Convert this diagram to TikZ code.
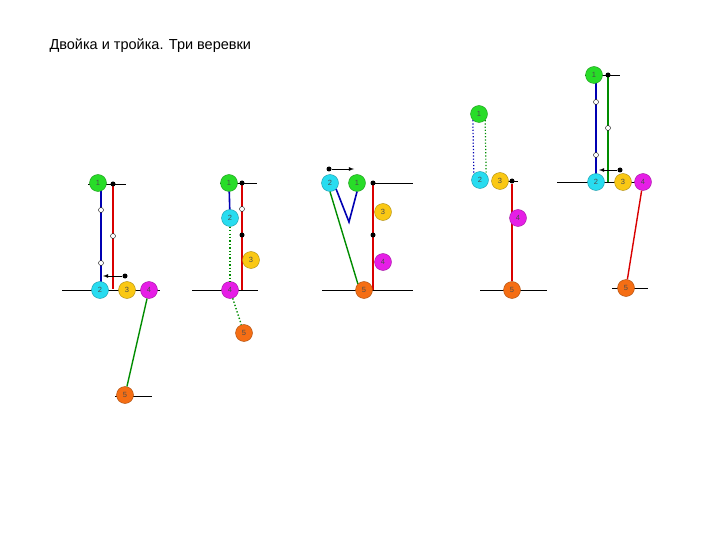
\documentclass[tikz,border=0pt]{standalone}
\usepackage{fontspec}
\setmainfont{Liberation Sans}
\begin{document}
\begin{tikzpicture}[x=1pt,y=-1pt,
  ball/.style={circle,minimum size=17pt,inner sep=0pt,draw=#1!70!black,fill=#1,font=\fontsize{7.5}{7.5}\selectfont,text=black!70},
  hole/.style={circle,minimum size=5pt,inner sep=0pt,draw=black,fill=white},
  pin/.style={circle,minimum size=5pt,inner sep=0pt,fill=black},
  gnd/.style={black,line width=0.8pt},
  rb/.style={line width=1.6pt,blue!70!black},
  rr/.style={line width=1.4pt,red!85!black},
  rg/.style={line width=1.4pt,green!55!black},
  dot/.style={dotted,line width=1.4pt},
  arr/.style={-latex,line width=0.8pt}]
\useasboundingbox (0,0) rectangle (720,540);
\definecolor{cg}{RGB}{40,220,40}
\definecolor{cc}{RGB}{40,220,240}
\definecolor{cy}{RGB}{250,200,20}
\definecolor{cm}{RGB}{230,30,230}
\definecolor{co}{RGB}{245,110,20}
\node[anchor=west,font=\fontsize{14.5}{14.5}\selectfont] (title) at (46,46) {Двойка и тройка. Три веревки};

% Panel 1
\draw[gnd] (88,184) -- (126,184);
\draw[gnd] (62,290) -- (160,290);
\draw[gnd] (115,396) -- (152,396);
\coordinate (p1a) at (101,190); \coordinate (p1b) at (101,288);
\draw[rb] (p1a) -- (p1b);
\draw[rr] (113,184) -- (113,289);
\node[hole] (h11) at (101,210) {}; \node[hole] (h12) at (101,263) {}; \node[hole] (h13) at (113,236) {};
\node[pin] (d11) at (113,184) {};
\node[pin] (d12) at (125,276) {};
\coordinate (a1) at (103,276);
\draw[arr] (d12) -- (a1);
\node[ball=cg] (n11) at (98,183) {1};
\node[ball=cc] (n12) at (100,290) {2};
\node[ball=cy] (n13) at (127,290) {3};
\node[ball=cm] (n14) at (149,290) {4};
\node[ball=co] (n15) at (125,395) {5};
\draw[rg] (n14) -- (n15);

% Panel 2
\draw[gnd] (220,183) -- (257,183);
\draw[gnd] (192,290) -- (258,290);
\draw[rr] (242,183) -- (242,290);
\node[hole] (h21) at (242,209) {};
\node[pin] (d22) at (242,235) {};
\node[pin] (d21) at (242,183) {};
\node[ball=cg] (n21) at (229,183) {1};
\node[ball=cc] (n22) at (230,218) {2};
\node[ball=cy] (n23) at (251,260) {3};
\node[ball=cm] (n24) at (230,290) {4};
\node[ball=co] (n25) at (244,333) {5};
\draw[rb] (n21) -- (n22);
\draw[rg,dot] (n22) -- (n24);
\draw[rg,dot] (n24) -- (n25);

% Panel 3
\draw[gnd] (373,183) -- (413,183);
\draw[gnd] (322,290) -- (413,290);
\draw[rr] (373,183) -- (373,290);
\node[pin] (d31) at (373,183) {};
\node[pin] (d32) at (373,235) {};
\node[pin] (d33) at (329,169) {};
\coordinate (a3) at (354,169);
\draw[arr] (d33) -- (a3);
\node[ball=cc] (n32) at (330,183) {2};
\node[ball=cg] (n31) at (357,183) {1};
\node[ball=cy] (n33) at (383,212) {3};
\node[ball=cm] (n34) at (383,262) {4};
\node[ball=co] (n35) at (364,290) {5};
\coordinate (v3) at (349,222);
\draw[rb] (n32.south east) -- (v3) -- (n31.south);
\draw[rg] (n32.south) -- (n35.north west);

% Panel 4
\draw[gnd] (480,290) -- (547,290);
\draw[gnd] (500,181) -- (518,181);
\node[ball=cg] (n41) at (479,114) {1};
\node[ball=cc] (n42) at (480,180) {2};
\node[ball=cy] (n43) at (500,181) {3};
\node[pin] (d41) at (512,181) {};
\node[ball=co] (n45) at (512,290) {5};
\draw[rr] (d41) -- (n45);
\node[ball=cm] (n44) at (518,218) {4};
\draw[dot,blue!70!black,line width=1.2pt] (n41.south west) -- (n42.north west);
\draw[dot,green!55!black,line width=1.2pt] (n41.south east) -- (n42.north east);

% Panel 5
\draw[gnd] (585,75) -- (620,75);
\draw[gnd] (557,182) -- (650,182);
\draw[gnd] (612,288) -- (648,288);
\draw[rb] (596,82) -- (596,182);
\draw[rg] (608,75) -- (608,182);
\node[hole] (h51) at (596,102) {}; \node[hole] (h52) at (596,155) {}; \node[hole] (h53) at (608,128) {};
\node[pin] (d51) at (608,75) {};
\node[pin] (d52) at (620,170) {};
\coordinate (a5) at (599,170);
\draw[arr] (d52) -- (a5);
\node[ball=cg] (n51) at (594,75) {1};
\node[ball=cc] (n52) at (596,182) {2};
\node[ball=cy] (n53) at (623,182) {3};
\node[ball=cm] (n54) at (643,182) {4};
\node[ball=co] (n55) at (626,288) {5};
\draw[rr] (n54) -- (n55);
\end{tikzpicture}
\end{document}
